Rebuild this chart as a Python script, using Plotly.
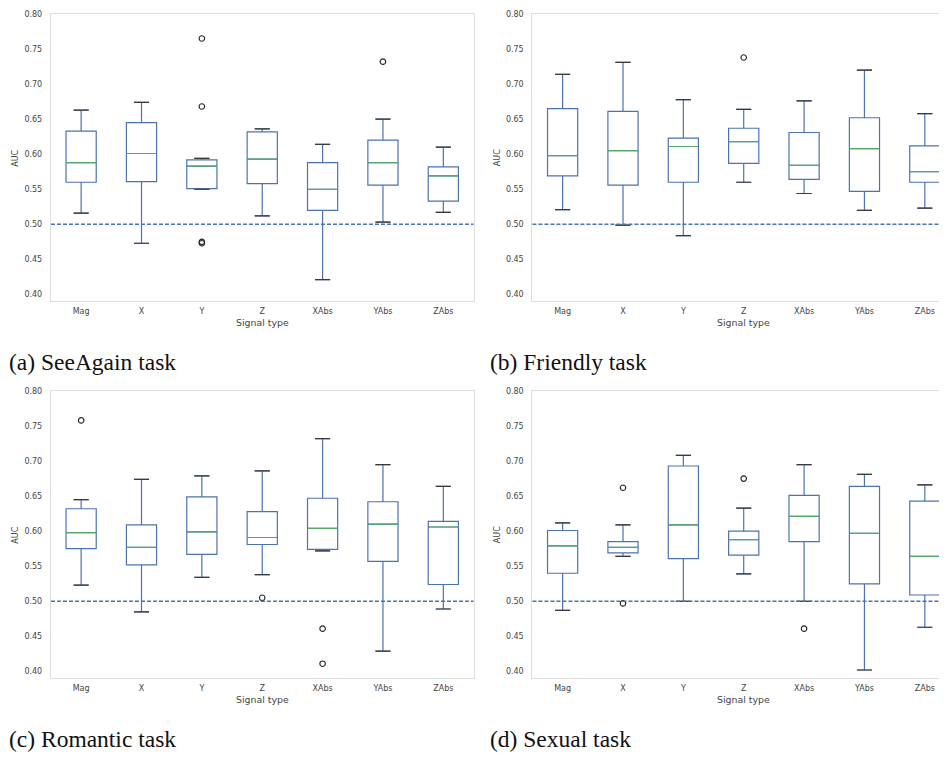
import plotly.graph_objects as go

categories = ["Mag", "X", "Y", "Z", "XAbs", "YAbs", "ZAbs"]
y_ticks = [0.40, 0.45, 0.50, 0.55, 0.60, 0.65, 0.70, 0.75, 0.80]
captions = ["(a) SeeAgain task", "(b) Friendly task", "(c) Romantic task", "(d) Sexual task"]
chance_level = 0.5

# (a) SeeAgain
a_low = [0.516, 0.473, 0.550, 0.512, 0.421, 0.503, 0.517]
a_q1 = [0.560, 0.561, 0.551, 0.558, 0.520, 0.556, 0.533]
a_med = [0.588, 0.601, 0.583, 0.593, 0.550, 0.588, 0.569]
a_q3 = [0.633, 0.645, 0.592, 0.632, 0.588, 0.620, 0.582]
a_high = [0.663, 0.674, 0.594, 0.636, 0.614, 0.650, 0.610]
a_out = [[], [], [0.765, 0.668, 0.475, 0.473], [], [], [0.732], []]

# (b) Friendly
b_low = [0.521, 0.499, 0.484, 0.560, 0.544, 0.520, 0.523]
b_q1 = [0.569, 0.556, 0.560, 0.587, 0.564, 0.547, 0.560]
b_med = [0.598, 0.605, 0.611, 0.618, 0.584, 0.608, 0.575]
b_q3 = [0.665, 0.661, 0.623, 0.637, 0.631, 0.652, 0.612]
b_high = [0.714, 0.731, 0.678, 0.664, 0.676, 0.720, 0.658]
b_out = [[], [], [], [0.738], [], [], []]

# (c) Romantic
c_low = [0.523, 0.485, 0.534, 0.538, 0.572, 0.429, 0.489]
c_q1 = [0.575, 0.552, 0.567, 0.581, 0.574, 0.557, 0.524]
c_med = [0.598, 0.577, 0.599, 0.591, 0.604, 0.610, 0.606]
c_q3 = [0.632, 0.609, 0.649, 0.628, 0.647, 0.642, 0.614]
c_high = [0.645, 0.674, 0.679, 0.686, 0.732, 0.695, 0.664]
c_out = [[0.758], [], [], [0.505], [0.461, 0.411], [], []]

# (d) Sexual
d_low = [0.487, 0.564, 0.500, 0.539, 0.500, 0.402, 0.463]
d_q1 = [0.540, 0.569, 0.561, 0.566, 0.585, 0.525, 0.509]
d_med = [0.579, 0.577, 0.609, 0.588, 0.621, 0.597, 0.564]
d_q3 = [0.601, 0.585, 0.693, 0.600, 0.651, 0.664, 0.643]
d_high = [0.612, 0.609, 0.708, 0.633, 0.695, 0.681, 0.666]
d_out = [[], [0.662, 0.497], [], [0.675], [0.461], [], []]

panels = [
    (a_low, a_q1, a_med, a_q3, a_high, a_out),
    (b_low, b_q1, b_med, b_q3, b_high, b_out),
    (c_low, c_q1, c_med, c_q3, c_high, c_out),
    (d_low, d_q1, d_med, d_q3, d_high, d_out),
]

PAGE_W, PAGE_H = 947, 758
OFF = 8  # browser body margin
W, H = PAGE_W - OFF, PAGE_H - OFF
BLUE = "#4c72b0"
GREEN = "#55a868"
CAP = "#3a3a3a"
FRAME = "#dddddd"
TEXT = "#444444"
BOX_W = 0.5
CAP_W = 0.125

# page-pixel geometry of the four plot areas (left, right, top, bottom)
areas = [(51, 474, 10, 299), (533, 956, 10, 299), (51, 474, 389, 678), (533, 956, 389, 678)]

fig = go.Figure()
layout = {}
for i, (panel, area) in enumerate(zip(panels, areas)):
    low, q1, med, q3, high, outs = panel
    n = i + 1
    xa = "x" if n == 1 else f"x{n}"
    ya = "y" if n == 1 else f"y{n}"
    xs = list(range(len(categories)))
    fig.add_trace(go.Box(
        x=xs, q1=q1, median=med, q3=q3, lowerfence=low, upperfence=high,
        boxpoints=False, width=BOX_W, whiskerwidth=0.5,
        line=dict(color=BLUE, width=1.2), fillcolor="rgba(0,0,0,0)",
        xaxis=xa, yaxis=ya, showlegend=False, hoverinfo="skip"))
    # median lines
    mx, my = [], []
    for k, v in enumerate(med):
        mx += [k - BOX_W / 2, k + BOX_W / 2, None]
        my += [v, v, None]
    fig.add_trace(go.Scatter(x=mx, y=my, mode="lines", line=dict(color=GREEN, width=1.2),
                             xaxis=xa, yaxis=ya, showlegend=False, hoverinfo="skip"))
    # caps
    cx, cy = [], []
    for k in xs:
        for v in (low[k], high[k]):
            cx += [k - CAP_W, k + CAP_W, None]
            cy += [v, v, None]
    fig.add_trace(go.Scatter(x=cx, y=cy, mode="lines", line=dict(color=CAP, width=1.2),
                             xaxis=xa, yaxis=ya, showlegend=False, hoverinfo="skip"))
    # outliers
    ox, oy = [], []
    for k, vals in enumerate(outs):
        for v in vals:
            ox.append(k)
            oy.append(v)
    fig.add_trace(go.Scatter(x=ox, y=oy, mode="markers",
                             marker=dict(symbol="circle-open", size=5.5, color="#222222", line=dict(width=1.1)),
                             xaxis=xa, yaxis=ya, showlegend=False, hoverinfo="skip"))

    l, r, t, b = [v - OFF for v in area]
    px_per_unit = (r - l) / 7.0
    x_hi = 6.5 - max(0, r - W) / px_per_unit
    dom_x = [l / W, min(r, W) / W]
    dom_y = [1 - b / H, 1 - t / H]
    layout["xaxis" if n == 1 else f"xaxis{n}"] = dict(
        domain=dom_x, range=[-0.5, x_hi], anchor=ya, tickmode="array", tickvals=xs,
        ticktext=categories, showgrid=False, zeroline=False, showline=True, mirror=True,
        linecolor=FRAME, linewidth=1.3, ticks="", ticklabelstandoff=2,
        tickfont=dict(family="DejaVu Sans", size=8, color=TEXT))
    layout["yaxis" if n == 1 else f"yaxis{n}"] = dict(
        domain=dom_y, range=[0.39, 0.80], anchor=xa, tickmode="array", tickvals=y_ticks,
        ticktext=[f"{v:.2f}" for v in y_ticks], showgrid=False, zeroline=False,
        showline=True, mirror=True, linecolor=FRAME, linewidth=1.3, ticks="",
        ticklabelstandoff=6, tickfont=dict(family="DejaVu Sans", size=8, color=TEXT))

    fig.add_shape(type="line", xref=f"{xa} domain", yref=ya, x0=0, x1=1,
                  y0=chance_level, y1=chance_level,
                  line=dict(color=BLUE, width=1.5, dash="4px,2px"))
    # axis titles
    fig.add_annotation(text="Signal type", xref="paper", yref="paper",
                       x=((l + r) / 2) / W, y=1 - (b + 21) / H, showarrow=False,
                       xanchor="center", yanchor="middle",
                       font=dict(family="DejaVu Sans", size=9.4, color=TEXT))
    fig.add_annotation(text="AUC", xref="paper", yref="paper", textangle=-90,
                       x=(l - 35) / W, y=1 - ((t + b) / 2) / H, showarrow=False,
                       xanchor="center", yanchor="middle",
                       font=dict(family="DejaVu Sans", size=8, color=TEXT))
    fig.add_annotation(text=captions[i], xref="paper", yref="paper",
                       x=(l - 44) / W, y=1 - (b + 61) / H, showarrow=False,
                       xanchor="left", yanchor="middle",
                       font=dict(family="Liberation Serif", size=23.5, color="#111111"))

fig.update_layout(width=W, height=H, margin=dict(l=0, r=0, t=0, b=0),
                  plot_bgcolor="white", paper_bgcolor="white", **layout)
fig.write_html("out.html")
